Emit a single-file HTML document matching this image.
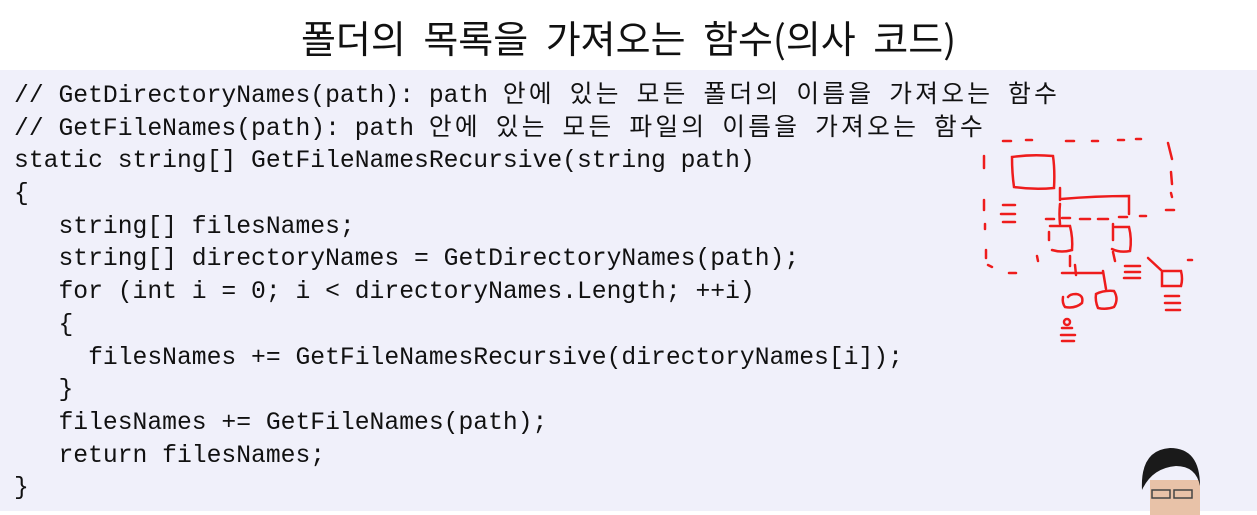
<!DOCTYPE html>
<html><head><meta charset="utf-8"><style>
html,body{margin:0;padding:0;background:#fff;}
body{width:1257px;height:515px;position:relative;overflow:hidden;}
.title{position:absolute;top:12px;left:0;width:1257px;text-align:center;font:38px/50px "Noto Sans CJK KR",sans-serif;color:#111;word-spacing:9px;}
.box{position:absolute;left:0;top:70px;width:1257px;height:441px;background:#f0f0fa;}
.code{position:absolute;left:14px;top:80px;font:24.7px "Liberation Mono","Noto Sans CJK KR",monospace;color:#111;}
.code div{height:32.7px;line-height:32.7px;white-space:pre;overflow:visible;}
.k{font-family:"Noto Sans CJK KR",sans-serif;letter-spacing:3.3px;line-height:20px;display:inline-block;vertical-align:baseline;}
</style></head><body>
<div class="title">폴더의 목록을 가져오는 함수(의사 코드)</div>
<div class="box"></div>
<div class="code">
<div>// GetDirectoryNames(path): path <span class="k">안에</span> <span class="k">있는</span> <span class="k">모든</span> <span class="k">폴더의</span> <span class="k">이름을</span> <span class="k">가져오는</span> <span class="k">함수</span></div>
<div>// GetFileNames(path): path <span class="k">안에</span> <span class="k">있는</span> <span class="k">모든</span> <span class="k">파일의</span> <span class="k">이름을</span> <span class="k">가져오는</span> <span class="k">함수</span></div>
<div>static string[] GetFileNamesRecursive(string path)</div>
<div>{</div>
<div>   string[] filesNames;</div>
<div>   string[] directoryNames = GetDirectoryNames(path);</div>
<div>   for (int i = 0; i &lt; directoryNames.Length; ++i)</div>
<div>   {</div>
<div>     filesNames += GetFileNamesRecursive(directoryNames[i]);</div>
<div>   }</div>
<div>   filesNames += GetFileNames(path);</div>
<div>   return filesNames;</div>
<div>}</div>
</div>
<svg width="1257" height="515" style="position:absolute;left:0;top:0" fill="none" stroke="#ee1c1c" stroke-width="2.5" stroke-linecap="round">
<path d="M1003 141h8M1026 140h6M1066 141h8M1092 141h6M1118 140h6M1136 139h5M1168 143l4 16M1171 172l1 12M1171 193l1 4M1166 210h8M984 156v12M984 200v10M985 224v5M986 250v8M988 265l4 2M1009 273h7M1037 256l1 5M1046 219h8M1062 218h8M1080 219h10M1098 219h10M1119 217h8M1140 216h6M1113 224v16M1113 252l2 9M1188 260l4 0"/>
<path d="M1012 157q20-3 41-1q2 14 1 32q-20 2-40-1q-2-14-2-30z"/>
<path d="M1060 188v12M1060 204q-1 10 0 20M1061 199q35-3 68-3v18"/>
<path d="M1050 226h20q3 12 2 24q-10 3-20 0M1049 232v8"/>
<path d="M1115 227h14q3 12 1 24q-10 2-18-2"/>
<path d="M1070 256v10M1062 273h40M1075 265l1 10M1103 271l3 18"/>
<path d="M1063 297q-1 6 2 10q10 2 17-4q2-8-6-9q-6 0-8 3"/>
<path d="M1096 294q8-4 18-3q5 8 0 16q-8 3-16 1q-3-7-2-14z"/>
<path d="M1162 271h19q2 8 0 15h-19z M1148 258l14 13"/>
<path d="M1003 205h12M1001 214h14M1003 222h12M1125 266h15M1125 272h15M1124 278h16M1165 296h14M1165 303h15M1166 310h14M1062 328h10M1061 335h14M1062 341h12"/>
<circle cx="1067" cy="322" r="3"/>
</svg>
<svg width="1257" height="515" style="position:absolute;left:0;top:0">
<rect x="1150" y="480" width="50" height="35" fill="#e8c2a8"/>
<path d="M1142 490q-2-40 28-42q30 0 30 38q-4-20-24-20q-24 2-34 24z" fill="#1a1a1a"/>
<rect x="1152" y="490" width="18" height="8" fill="none" stroke="#444" stroke-width="1.5"/>
<rect x="1174" y="490" width="18" height="8" fill="none" stroke="#444" stroke-width="1.5"/>
</svg>
</body></html>
